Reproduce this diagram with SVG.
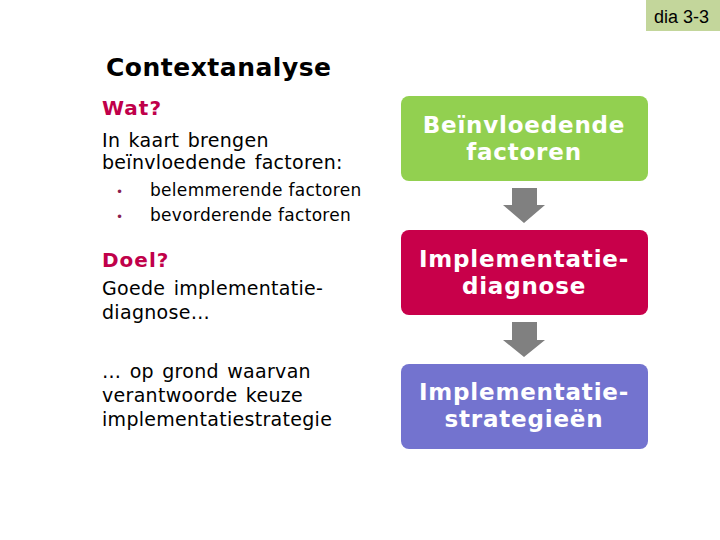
<svg xmlns="http://www.w3.org/2000/svg" width="720" height="540" viewBox="0 0 720 540">
<style>
.t{font-family:"DejaVu Sans",Verdana,sans-serif;font-size:19px;letter-spacing:0.3px;word-spacing:2px;fill:#000}
.s{font-family:"DejaVu Sans",Verdana,sans-serif;font-size:17px;letter-spacing:0.3px;fill:#000}
.h{font-family:"DejaVu Sans",Verdana,sans-serif;font-size:20px;letter-spacing:1px;font-weight:bold;fill:#c0004a}
.b{font-family:"DejaVu Sans",Verdana,sans-serif;font-size:23px;letter-spacing:0.8px;font-weight:bold;fill:#fff;text-anchor:middle}
.bul{font-family:"DejaVu Sans",sans-serif;font-size:12px;fill:#8a2050}
.arr{fill:#808080}
</style>
<rect width="720" height="540" fill="#fff"/>
<g id="label">
<rect x="646" y="0" width="74" height="31" fill="#c3d69b"/>
<text x="654" y="23" style="font-family:'Liberation Sans',Arial,sans-serif;font-size:18px">dia 3-3</text>
</g>
<g id="title"><text x="106" y="76" style="font-family:'DejaVu Sans',Verdana,sans-serif;font-size:25px;letter-spacing:0.5px;font-weight:bold">Contextanalyse</text></g>
<g id="left">
<text x="102" y="115" class="h">Wat?</text>
<text x="102" y="147" class="t">In kaart brengen</text>
<text x="102" y="169" class="t">beïnvloedende factoren:</text>
<text x="116" y="196" class="bul">•</text>
<text x="150" y="196" class="s">belemmerende factoren</text>
<text x="116" y="221" class="bul">•</text>
<text x="150" y="221" class="s">bevorderende factoren</text>
<text x="102" y="267" class="h">Doel?</text>
<text x="102" y="295" class="t">Goede implementatie-</text>
<text x="102" y="319" class="t">diagnose…</text>
<text x="102" y="378" class="t">… op grond waarvan</text>
<text x="102" y="402" class="t">verantwoorde keuze</text>
<text x="102" y="426" class="t">implementatiestrategie</text>
</g>
<g id="node1">
<rect x="401" y="96" width="247" height="85" rx="8" fill="#92d050"/>
<text x="524" y="133" class="b">Beïnvloedende</text>
<text x="524" y="160" class="b">factoren</text>
</g>
<g id="node2">
<rect x="401" y="230" width="247" height="85" rx="8" fill="#c8004a"/>
<text x="524" y="267" class="b">Implementatie-</text>
<text x="524" y="294" class="b">diagnose</text>
</g>
<g id="node3">
<rect x="401" y="364" width="247" height="85" rx="8" fill="#7373cf"/>
<text x="524" y="400" class="b">Implementatie-</text>
<text x="524" y="427" class="b">strategieën</text>
</g>
<g id="connectors">
<polygon class="arr" points="512,188 537,188 537,205 545,205 524,223 503,205 512,205"/>
<polygon class="arr" points="512,322 537,322 537,340 545,340 524,357 503,340 512,340"/>
</g>
</svg>
